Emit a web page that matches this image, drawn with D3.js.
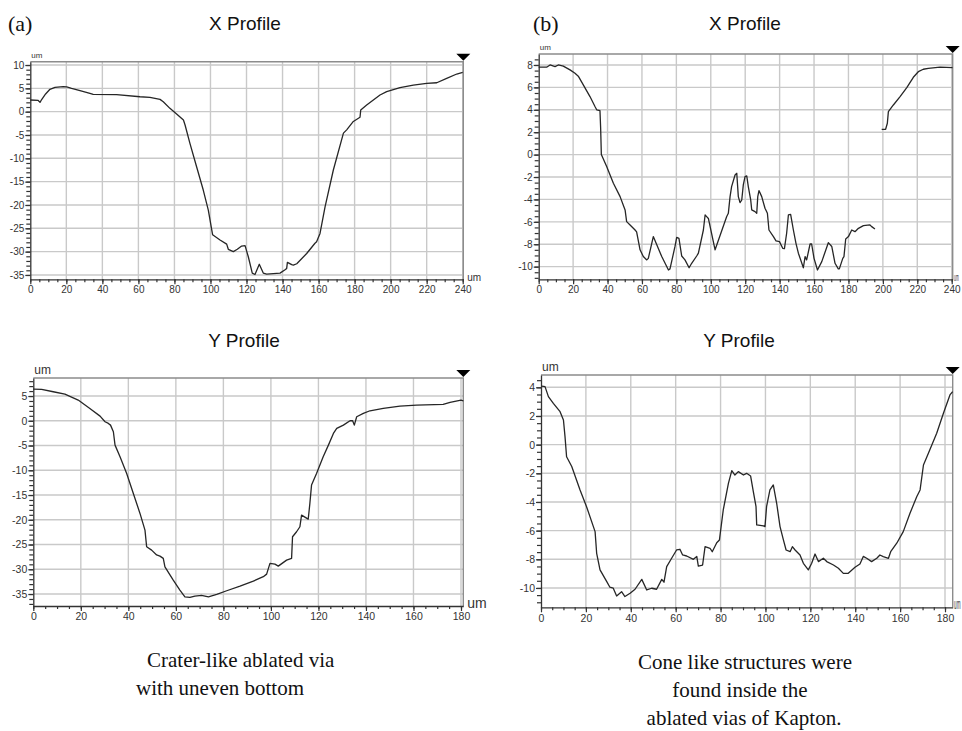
<!DOCTYPE html>
<html>
<head>
<meta charset="utf-8">
<script src="https://cdn.jsdelivr.net/npm/d3@7"></script>
<style>
  body { margin: 0; background: #fff; }
  svg { display: block; }
</style>
</head>
<body>
<svg id="fig" width="962" height="731"></svg>
<script>
// ---- Surface profiles of the laser-ablated vias (distance in um, height in um) ----

// (a) X profile
const aXdist   = [0, 4.4, 5.4, 6.3, 8.5, 10.9, 13.7, 18.3, 20.2, 22.9, 25, 27.6, 33.1, 34.9, 47.9, 60.9, 66.4, 72, 73.8, 77.5, 81.2, 85, 85.9, 88.6, 92.3, 96, 98.8, 101.2, 105.3, 109, 109.9, 112.7, 114.9, 117.3, 119.2, 121, 123.2, 124.7, 127.1, 129.3, 131.2, 138.6, 141.4, 142.3, 142.7, 145.1, 146, 147.9, 153.4, 158, 158.9, 160.8, 163.6, 168.2, 173.8, 175.6, 179.3, 183, 183.4, 186.7, 194.1, 197.8, 205.2, 212.6, 220, 225.6, 231.1, 236.7, 240];
const aXheight = [2.5, 2.4, 2.0, 2.6, 3.8, 4.8, 5.2, 5.36, 5.3, 5.0, 4.8, 4.5, 3.9, 3.7, 3.64, 3.2, 3.07, 2.64, 2.14, 0.71, -0.5, -1.8, -2.86, -6.8, -11.8, -16.8, -21.1, -26.4, -27.5, -28.4, -29.5, -30, -29.5, -28.8, -28.7, -31.1, -34.6, -34.9, -32.7, -34.6, -34.8, -34.6, -33.9, -33.6, -32.3, -32.8, -32.9, -32.6, -30.4, -28.2, -27.9, -26.1, -20.4, -12.5, -4.6, -3.9, -2.1, -1.2, 0.36, 1.43, 3.57, 4.29, 5.14, 5.7, 6.07, 6.2, 7.14, 8.07, 8.43];

// (b) X profile (null marks the missing stretch of the scan)
const bXdist   = [0, 4.6, 6.6, 9.5, 11.4, 14.3, 18.2, 21.1, 23, 26, 29.8, 32.7, 33.7, 35.6, 36, 36.4, 39.5, 43.4, 47.3, 50.2, 51.1, 53.1, 56, 56.9, 58.9, 60.8, 62.8, 63.7, 66.6, 71.5, 75.4, 76.3, 79.2, 80.2, 81.5, 83.1, 85, 87.4, 88.9, 91.8, 92.8, 95.7, 96.7, 97.6, 98.6, 102.5, 109.2, 110.2, 111.2, 112.1, 114.1, 115.1, 116, 117, 118, 118.9, 119.9, 120.9, 121.8, 123.2, 123.8, 125.7, 126.7, 127.3, 128, 129.6, 131.5, 132.9, 133.8, 136.4, 137.9, 139.9, 141.8, 142.8, 144.1, 145.1, 146.4, 148, 149.5, 150.9, 153.8, 154.8, 155.7, 157.7, 158.6, 160, 162, 164.5, 168.3, 170.3, 172.2, 174.1, 174.7, 176.7, 177.4, 178.4, 180, 181.9, 183.8, 185.8, 188.7, 192.5, 193.5, 195.4, 197.5, 199.3, 201.6, 202.6, 203.2, 206.1, 210, 213.9, 217.7, 220.6, 223.5, 226.4, 233.2, 240.5];
const bXheight = [7.8, 7.8, 8.0, 7.86, 8.0, 7.9, 7.56, 7.26, 7.0, 6.2, 5.18, 4.29, 4.0, 3.93, 2.35, 0, -1.07, -2.56, -3.75, -4.94, -5.98, -6.28, -6.73, -6.9, -8.5, -9.1, -9.4, -9.26, -7.32, -9.1, -10.3, -10.2, -8.2, -7.38, -7.47, -9.05, -9.4, -10.1, -9.7, -9.05, -8.8, -6.73, -5.39, -5.54, -5.7, -8.5, -5.54, -5.24, -3.75, -2.86, -1.82, -1.67, -3.75, -4.29, -4.05, -2.7, -1.96, -1.9, -2.86, -4.05, -4.94, -5.09, -5.24, -3.75, -3.21, -3.75, -4.79, -5.24, -6.73, -7.32, -7.7, -7.77, -8.36, -8.39, -7.0, -5.39, -5.33, -6.73, -7.92, -8.8, -10.1, -9.1, -9.4, -7.98, -7.98, -9.26, -10.3, -9.55, -7.86, -8.2, -9.7, -10.2, -10.2, -9.26, -9.1, -7.53, -7.32, -6.73, -6.88, -6.58, -6.34, -6.28, -6.43, -6.64, null, 2.26, 2.26, 2.8, 3.84, 4.43, 5.18, 5.98, 6.9, 7.4, 7.62, 7.7, 7.8, 7.77];

// (a) Y profile
const aYdist   = [0, 3.5, 8.4, 13.3, 18.9, 23.8, 28.1, 30.2, 31.6, 32.5, 33.7, 34.4, 36.5, 39.3, 42.1, 44.9, 47, 47.7, 49.8, 51.9, 53.3, 54.7, 55.4, 58.9, 61.7, 63.8, 65.9, 68, 70.8, 73.7, 77.2, 81.4, 87, 92.6, 96.8, 98.2, 99.6, 101.7, 103.1, 106.6, 108.7, 109.1, 110.8, 112.2, 112.9, 115.7, 116.4, 117.1, 119.2, 122, 124.2, 126.3, 127.7, 130.5, 133.3, 134.4, 135.1, 136.1, 138.9, 141.7, 147.3, 154.3, 161.3, 172.5, 175.4, 180, 181];
const aYheight = [6.4, 6.33, 5.86, 5.39, 4.18, 2.49, 0.94, -0.2, -0.54, -0.88, -2.22, -4.92, -7.27, -10.64, -14.68, -18.72, -22.1, -25.45, -26.13, -27.1, -27.34, -27.8, -29.5, -32.2, -34.2, -35.56, -35.69, -35.42, -35.29, -35.56, -35.08, -34.34, -33.4, -32.39, -31.5, -30.98, -28.82, -28.96, -29.36, -28.15, -27.8, -23.43, -22.42, -21.41, -19.06, -19.87, -16.7, -13, -10.64, -7.27, -4.92, -2.56, -1.55, -0.88, 0, 0, -0.88, 0.81, 1.48, 2.02, 2.49, 2.96, 3.16, 3.3, 3.7, 4.18, 4.04];

// (b) Y profile
const bYdist   = [0.3, 1.8, 3.3, 5.5, 8.5, 10, 10.7, 11.4, 13.7, 17.4, 20.3, 24.1, 24.8, 26.3, 29.3, 30.7, 32.2, 33.7, 35.9, 37.4, 39.7, 41.9, 44.9, 47.1, 49.3, 51.5, 53.8, 54.8, 56, 58.2, 60.4, 61.9, 63.1, 64.9, 67.9, 69.4, 70.1, 72, 73.1, 75.3, 76.3, 78.3, 79.5, 81.2, 83.5, 85, 86.4, 87.9, 90.2, 91.6, 93.4, 94.6, 95.8, 96.1, 99.1, 99.8, 100.5, 102, 103.5, 105, 106.5, 108, 109.2, 111, 112, 113.2, 115.4, 116.9, 119.1, 120.6, 122.1, 123.6, 125.8, 127.3, 130.3, 132.5, 134.7, 136.9, 139.9, 142.1, 143.6, 145.1, 147.3, 149.6, 151, 152.5, 154.8, 155.8, 158.5, 161.4, 164.4, 167.4, 168.9, 170.4, 172.6, 176.3, 179.3, 182.2, 183.4];
const bYheight = [4.09, 4.05, 3.35, 2.88, 2.3, 1.72, 0.56, -0.84, -1.53, -3.16, -4.33, -6.07, -7.58, -8.74, -9.56, -9.95, -10.02, -10.56, -10.26, -10.6, -10.37, -10.09, -9.4, -10.14, -10.02, -10.09, -9.4, -9.6, -8.51, -7.93, -7.35, -7.3, -7.7, -7.77, -8.0, -7.8, -8.47, -8.4, -7.12, -7.23, -7.47, -6.84, -6.65, -4.56, -2.7, -1.81, -2.12, -1.88, -2.12, -2.0, -2.19, -3.28, -4.33, -5.6, -5.67, -5.72, -4.33, -3.16, -2.81, -4.09, -5.72, -6.65, -7.35, -7.47, -7.12, -7.35, -7.7, -8.28, -8.74, -8.28, -7.63, -8.16, -7.93, -8.16, -8.4, -8.63, -8.98, -8.98, -8.56, -8.33, -7.8, -7.93, -8.16, -7.93, -7.7, -7.81, -7.93, -7.47, -6.88, -6.07, -4.79, -3.63, -3.16, -1.42, -0.6, 0.79, 2.19, 3.47, 3.7];

// Tick labels
const xTicks240 = [0, 20, 40, 60, 80, 100, 120, 140, 160, 180, 200, 220, 240];
const xTicks180 = [0, 20, 40, 60, 80, 100, 120, 140, 160, 180];
const yTicksAX  = [10, 5, 0, -5, -10, -15, -20, -25, -30, -35];
const yTicksBX  = [8, 6, 4, 2, 0, -2, -4, -6, -8, -10];
const yTicksAY  = [5, 0, -5, -10, -15, -20, -25, -30, -35];
const yTicksBY  = [4, 2, 0, -2, -4, -6, -8, -10];

// Titles and captions
const panelTags   = ["(a)", "(b)"];
const plotTitles  = ["X Profile", "X Profile", "Y Profile", "Y Profile"];
const captionA    = ["Crater-like ablated via", "with uneven bottom"];
const captionB    = ["Cone like structures were", "found inside the", "ablated vias of Kapton."];

const svg = d3.select("#fig");
const zip = (xs, ys) => xs.map((v, i) => [v, ys[i]]);
const sans = "Liberation Sans, Arial, sans-serif";
const serif = "Liberation Serif, Times New Roman, serif";
const pageWidth = 962;

function minorValues(domain, step) {
  const lo = Math.ceil(domain[0] / step - 1e-9), hi = Math.floor(domain[1] / step + 1e-9);
  return d3.range(lo, hi + 1).map(k => +(k * step).toFixed(4));
}

function drawPanel(p) {
  const x = d3.scaleLinear().domain(p.xDomain).range([p.left, p.right]);
  const y = d3.scaleLinear().domain(p.yDomain).range([p.bottom, p.top]);
  const g = svg.append("g");

  // grid
  g.append("g").selectAll("line").data(p.xTicks.filter(t => t > 0)).join("line")
    .attr("x1", d => x(d)).attr("x2", d => x(d))
    .attr("y1", p.top).attr("y2", p.bottom)
    .attr("stroke", "#c9c9c9").attr("stroke-width", 1.4);
  g.append("g").selectAll("line").data(p.yTicks).join("line")
    .attr("x1", p.left).attr("x2", p.right)
    .attr("y1", d => y(d)).attr("y2", d => y(d))
    .attr("stroke", "#c9c9c9").attr("stroke-width", 1.4);

  // frame (top and right)
  g.append("path")
    .attr("d", `M${p.left},${p.top}H${p.right}V${p.bottom}`)
    .attr("fill", "none").attr("stroke", "#8c8c8c").attr("stroke-width", 1.4);

  // minor ticks
  g.append("g").attr("transform", `translate(0,${p.bottom})`)
    .call(d3.axisBottom(x).tickValues(minorValues(p.xDomain, 5)).tickSize(3).tickSizeOuter(0).tickFormat(""))
    .call(a => a.select(".domain").remove())
    .call(a => a.selectAll("line").attr("stroke", "#333").attr("stroke-width", 1.2));
  g.append("g").attr("transform", `translate(${p.left},0)`)
    .call(d3.axisLeft(y).tickValues(minorValues(p.yDomain, p.yMinor)).tickSize(4).tickSizeOuter(0).tickFormat(""))
    .call(a => a.select(".domain").remove())
    .call(a => a.selectAll("line").attr("stroke", "#333").attr("stroke-width", 1.2));

  // major axes
  g.append("g").attr("transform", `translate(0,${p.bottom})`)
    .call(d3.axisBottom(x).tickValues(p.xTicks).tickSize(5).tickSizeOuter(0).tickPadding(2).tickFormat(d => String(d)))
    .call(a => a.select(".domain").attr("stroke", "#333").attr("stroke-width", 1.3))
    .call(a => a.selectAll("line").attr("stroke", "#333").attr("stroke-width", 1.2))
    .call(a => a.selectAll("text").attr("fill", "#333")
      .attr("font-family", sans).attr("font-size", p.tickFont));
  g.append("g").attr("transform", `translate(${p.left},0)`)
    .call(d3.axisLeft(y).tickValues(p.yTicks).tickSize(5).tickSizeOuter(0).tickPadding(1).tickFormat(d => String(d)))
    .call(a => a.select(".domain").attr("stroke", "#333").attr("stroke-width", 1.3))
    .call(a => a.selectAll("line").attr("stroke", "#333").attr("stroke-width", 1.2))
    .call(a => a.selectAll("text").attr("fill", "#333")
      .attr("font-family", sans).attr("font-size", p.tickFont));

  // profile curve
  const line = d3.line().defined(d => d[1] !== null).x(d => x(d[0])).y(d => y(d[1]));
  g.append("path").datum(p.points).attr("d", line)
    .attr("fill", "none").attr("stroke", "#262626").attr("stroke-width", 1.3)
    .attr("stroke-linejoin", "round");

  // cursor marker above the right edge
  const tx = p.right, ty = p.top;
  g.append("path")
    .attr("d", `M${tx - 7},${ty - 8}H${tx + 7}L${tx},${ty - 1}Z`)
    .attr("fill", "#000");

  // unit labels
  g.append("text").attr("x", p.left + 1).attr("y", p.top - 4)
    .attr("font-family", sans).attr("font-size", p.unitFont)
    .attr("fill", "#333").text("um");
  const fits = p.right + 4 + 14 <= pageWidth;
  // near the page edge the unit is drawn narrower so it stays on the page
  const sx = fits ? 1 : 0.33;
  g.append("text")
    .attr("transform", `translate(${fits ? p.right + 4 : p.right + 1.4},${p.bottom + 2}) scale(${sx},1)`)
    .attr("font-family", sans).attr("font-size", p.unitFont + 2)
    .attr("fill", "#333").text("um");
}

drawPanel({ left: 30.3, right: 463.3, top: 61.7, bottom: 279.3,
  xDomain: [0, 240.33], yDomain: [-35.93, 10.71], xTicks: xTicks240, yTicks: yTicksAX, yMinor: 1,
  tickFont: 10, unitFont: 8, points: zip(aXdist, aXheight) });
drawPanel({ left: 538.7, right: 952.7, top: 54, bottom: 279.3,
  xDomain: [0, 240.58], yDomain: [-11.13, 8.98], xTicks: xTicks240, yTicks: yTicksBX, yMinor: 0.5,
  tickFont: 10, unitFont: 8, points: zip(bXdist, bXheight) });
drawPanel({ left: 33.3, right: 463.3, top: 378, bottom: 606,
  xDomain: [0, 180.97], yDomain: [-37.42, 8.64], xTicks: xTicks180, yTicks: yTicksAY, yMinor: 1,
  tickFont: 10.5, unitFont: 12, points: zip(aYdist, aYheight) });
drawPanel({ left: 541, right: 952.7, top: 375, bottom: 607.3,
  xDomain: [0, 183.43], yDomain: [-11.35, 4.86], xTicks: xTicks180, yTicks: yTicksBY, yMinor: 0.5,
  tickFont: 10.5, unitFont: 12, points: zip(bYdist, bYheight) });

// titles
[[245, 30], [745, 30], [244, 347], [739, 347]].forEach((pos, i) => {
  svg.append("text").attr("x", pos[0]).attr("y", pos[1]).attr("text-anchor", "middle")
    .attr("font-family", sans).attr("font-size", 19).attr("fill", "#111").text(plotTitles[i]);
});
[[8, 31], [533, 31]].forEach((pos, i) => {
  svg.append("text").attr("x", pos[0]).attr("y", pos[1])
    .attr("font-family", serif).attr("font-size", 22).attr("fill", "#111").text(panelTags[i]);
});

// captions
[[147, 667], [136, 695]].forEach((pos, i) => {
  svg.append("text").attr("x", pos[0]).attr("y", pos[1])
    .attr("font-family", serif).attr("font-size", 21).attr("fill", "#111").text(captionA[i]);
});
[[745, 669], [740, 697], [744, 725]].forEach((pos, i) => {
  svg.append("text").attr("x", pos[0]).attr("y", pos[1]).attr("text-anchor", "middle")
    .attr("font-family", serif).attr("font-size", 21).attr("fill", "#111").text(captionB[i]);
});
</script>
</body>
</html>
